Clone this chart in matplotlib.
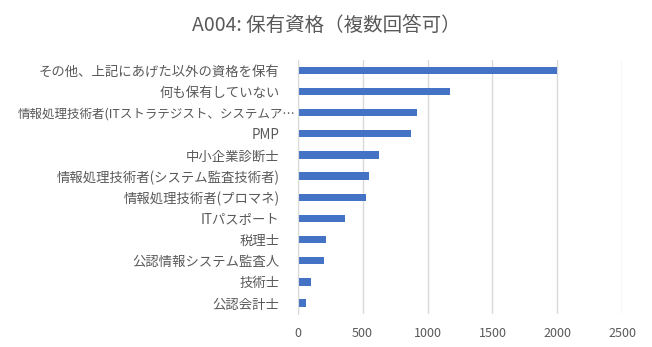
import matplotlib
matplotlib.use("Agg")
import matplotlib.pyplot as plt
import matplotlib.transforms as mtransforms

plt.rcParams["font.family"] = ["Noto Sans CJK JP", "DejaVu Sans"]

TITLE = "A004: 保有資格（複数回答可）"
CATEGORIES = [
    "その他、上記にあげた以外の資格を保有",
    "何も保有していない",
    "情報処理技術者(ITストラテジスト、システムア…",
    "PMP",
    "中小企業診断士",
    "情報処理技術者(システム監査技術者)",
    "情報処理技術者(プロマネ)",
    "ITパスポート",
    "税理士",
    "公認情報システム監査人",
    "技術士",
    "公認会計士",
]
COUNTS = [2000, 1170, 915, 870, 625, 548, 525, 363, 215, 200, 102, 63]
X_TICKS = [0, 500, 1000, 1500, 2000, 2500]

TEXT_COLOR = "#595959"
GRID_COLOR = "#d9d9d9"
BAR_COLOR = "#4472C4"


def main() -> None:
    figure = plt.figure(figsize=(6.52, 3.47), dpi=100)
    axis = figure.add_axes([0.4566, 0.0963, 0.4979, 0.7317])

    positions = list(range(len(CATEGORIES)))
    axis.barh(positions, COUNTS, height=0.35, color=BAR_COLOR, zorder=3)
    axis.set_ylim(len(CATEGORIES) - 0.5, -0.5)
    axis.set_xlim(0, 2500)
    axis.set_xticks(X_TICKS)
    axis.set_yticks(positions)
    axis.set_yticklabels(CATEGORIES, fontsize=9.6, color=TEXT_COLOR)
    axis.tick_params(axis="x", length=0, labelsize=9, labelcolor=TEXT_COLOR, pad=10)
    axis.tick_params(axis="y", length=0, pad=13)
    axis.grid(axis="x", color=GRID_COLOR, linewidth=1, zorder=0)

    for name, spine in axis.spines.items():
        spine.set_visible(name == "left")
    axis.spines["left"].set_color(GRID_COLOR)
    axis.spines["left"].set_zorder(4)

    # the truncated label sits further right in the original
    shift = mtransforms.ScaledTranslation(0.16, 0, figure.dpi_scale_trans)
    long_label = axis.get_yticklabels()[2]
    long_label.set_fontsize(9.0)
    long_label.set_transform(long_label.get_transform() + shift)

    figure.text(0.5, 0.925, TITLE, ha="center", va="center",
                fontsize=14, color=TEXT_COLOR)

    figure.savefig("out.png", dpi=100)
    plt.close(figure)


if __name__ == "__main__":
    main()
